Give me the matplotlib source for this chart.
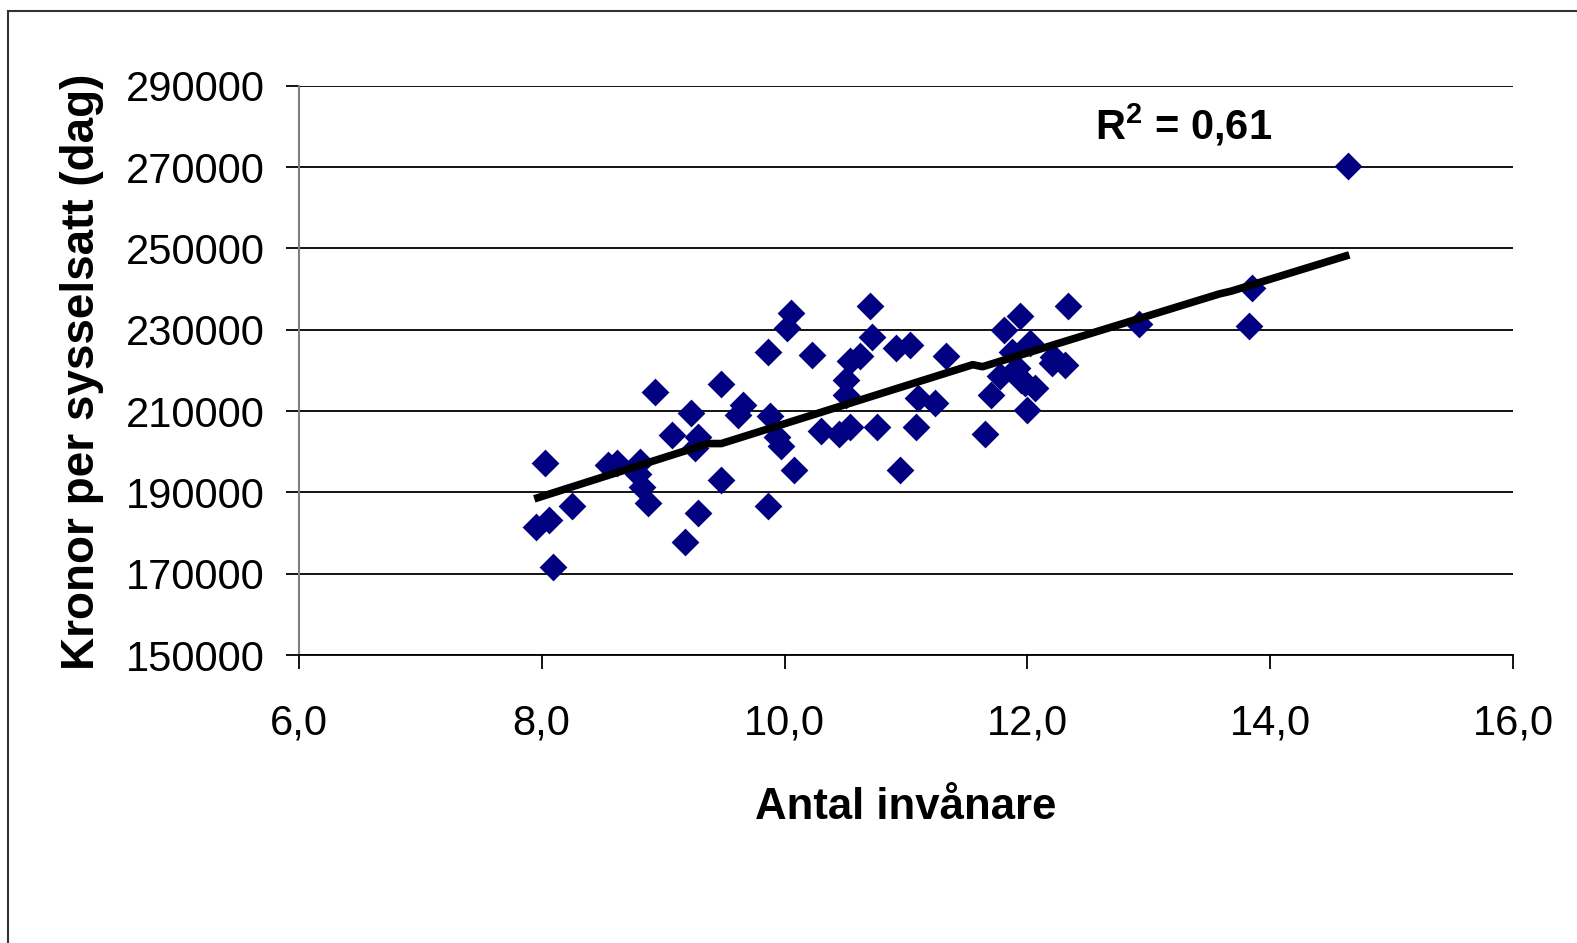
import matplotlib
matplotlib.use("Agg")
import matplotlib.pyplot as plt
from matplotlib.patches import Rectangle
from matplotlib.ticker import FuncFormatter

plt.rcParams['font.family'] = ['Liberation Sans', 'DejaVu Sans']
plt.rcParams['mathtext.fontset'] = 'custom'
plt.rcParams['mathtext.rm'] = 'Liberation Sans'
plt.rcParams['mathtext.bf'] = 'Liberation Sans:bold'

# Antal invånare (x) and kronor per sysselsatt (y)
invanare = [8.03, 7.95, 8.06, 8.09, 8.25, 8.55, 8.62, 8.81, 8.79, 8.83,
            8.88, 8.93, 9.07, 9.23, 9.29, 9.26, 9.18, 9.29, 9.48, 9.48,
            9.62, 9.66, 9.86, 10.05, 10.02, 9.88, 9.94, 9.97, 9.86, 10.08,
            10.23, 10.70, 10.72, 10.62, 10.54, 10.51, 10.51, 10.30, 10.45, 10.54,
            10.76, 10.95, 10.92, 11.03, 11.10, 11.24, 11.08, 11.33, 11.65, 12.33,
            11.70, 11.77, 11.81, 11.94, 11.87, 11.91, 11.95, 12.02, 12.06, 12.00,
            12.21, 12.31, 12.20, 11.98, 12.92, 13.85, 13.82, 14.64]
kronor = [197200, 181400, 183100, 171700, 186700, 196700, 197200, 197500, 194600, 191300,
          187400, 214800, 204200, 209600, 203700, 200800, 177900, 185000, 216700, 193000,
          209000, 211500, 224600, 234100, 230400, 208800, 203700, 201400, 186700, 195600,
          223700, 235900, 228100, 223600, 222200, 217700, 214000, 205200, 204300, 206000,
          206000, 195400, 225500, 226300, 213100, 212000, 206000, 223600, 204300, 235900,
          214000, 218500, 230000, 233300, 224600, 220600, 217700, 226700, 215600, 210300,
          223400, 221400, 221900, 216800, 231500, 240300, 230800, 270200]

# trendline as drawn in the original
trend_x = [7.94, 9.37, 9.48, 11.55, 11.63, 13.58, 13.68, 14.65]
trend_y = [188400, 202000, 202000, 221400, 220900, 238800, 239500, 248400]

fig = plt.figure(figsize=(15.77, 9.43), dpi=100)
ax = fig.add_axes([0.1894, 0.3054, 0.7702, 0.6037])

# outer chart frame
fig.patches.append(Rectangle((8 / 1577, -0.1), 1.2, 1 - 11 / 943 + 0.1,
                             transform=fig.transFigure, fill=False,
                             edgecolor='#333333', linewidth=1.5))

ax.scatter(invanare, kronor, marker='D', s=200, color='#000080', zorder=3, linewidths=0)
ax.plot(trend_x, trend_y, color='black', lw=5.5, zorder=4, solid_capstyle='butt')

ax.set_xlim(6, 16)
ax.set_ylim(150000, 290000)
ax.set_xticks([6, 8, 10, 12, 14, 16])
ax.set_yticks(range(150000, 290001, 20000))
ax.xaxis.set_major_formatter(FuncFormatter(lambda v, p: f"{v:.1f}".replace('.', ',')))

ax.grid(axis='y', color='black', lw=1.3)
ax.set_axisbelow(True)
for s in ['top', 'right']:
    ax.spines[s].set_visible(False)
ax.spines['left'].set_color('#808080')
ax.spines['left'].set_linewidth(1.5)
ax.spines['bottom'].set_color('black')
ax.spines['bottom'].set_linewidth(1.3)
ax.tick_params(axis='y', length=9.5, width=1.3, color='black', pad=15, labelsize=30)
ax.tick_params(axis='x', length=10, width=1.3, color='black', pad=25, labelsize=30)
ax.xaxis.get_major_ticks()[0].tick1line.set_color('#808080')

ax.set_xlabel('Antal invånare', fontsize=31.5, fontweight='bold')
ax.set_ylabel('Kronor per sysselsatt (dag)', fontsize=33, fontweight='bold')
ax.xaxis.set_label_coords(0.5, -0.232)
ax.yaxis.set_label_coords(-0.16, 0.497)

ax.text(12.56, 280200, 'R$^{\\mathbf{2}}$ = 0,61', fontsize=30, fontweight='bold',
        ha='left', va='center')

fig.savefig('out.png', dpi=100)
